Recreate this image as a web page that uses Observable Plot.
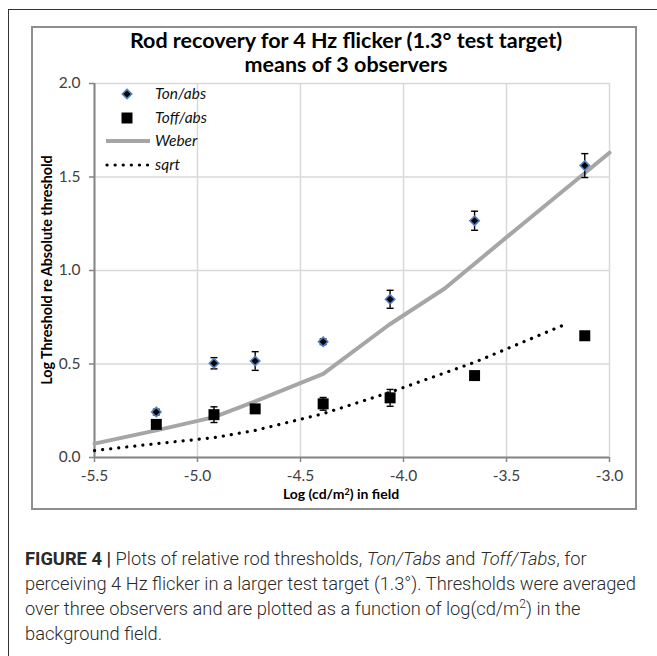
<!DOCTYPE html>
<html><head><meta charset="utf-8">
<script src="https://cdn.jsdelivr.net/npm/d3@7"></script>
<script src="https://cdn.jsdelivr.net/npm/@observablehq/plot@0.6"></script>
<style>
html,body{margin:0;padding:0;background:#fff;}
#wrap{position:relative;width:657px;height:656px;overflow:hidden;font-family:Lato,sans-serif;color:#000;}
#outer{position:absolute;left:8px;top:9px;width:700px;height:700px;border:1px solid #333;box-sizing:border-box;}
#box{position:absolute;left:31px;top:26px;width:602px;height:480px;border:2px solid #8f8f8f;}
#chart{position:absolute;left:32px;top:27px;}
#title{position:absolute;left:0;top:28px;width:692px;text-align:center;font-weight:700;font-size:21.5px;line-height:24px;}
#ytitle{position:absolute;left:-103px;top:260px;width:300px;height:20px;line-height:20px;text-align:center;font-weight:700;font-size:14.3px;transform:rotate(-90deg);}
#xtitle{position:absolute;left:191px;top:484px;width:300px;line-height:20px;text-align:center;font-weight:700;font-size:14px;}
#xtitle sup{font-size:9px;vertical-align:top;position:relative;top:-2px;}
#legend{position:absolute;left:0;top:0;}
#caption{position:absolute;left:25px;top:546px;font-family:Roboto,sans-serif;font-weight:300;font-size:18.3px;line-height:25px;color:#2a2a2a;white-space:nowrap;}
#caption b{font-weight:700;}
#caption sup{font-size:12px;vertical-align:top;position:relative;top:-4px;}
</style>
</head><body>
<div id="wrap">
  <div id="outer"></div>
  <div id="box"></div>
  <div id="chart"></div>
  <div id="title">Rod recovery for 4 Hz flicker (1.3° test target)<br>means of 3 observers</div>
  <div id="ytitle">Log Threshold re Absolute threshold</div>
  <div id="xtitle">Log (cd/m<sup>2</sup>) in field</div>
  <svg id="legend" width="240" height="190"></svg>
  <div id="caption"><b>FIGURE 4 |</b> Plots of relative rod thresholds, <i>Ton/Tabs</i> and <i>Toff/Tabs</i>, for<br>perceiving 4 Hz flicker in a larger test target (1.3°). Thresholds were averaged<br>over three observers and are plotted as a function of log(cd/m<sup>2</sup>) in the<br>background field.</div>
</div>
<script>
// ---- data ----
const xTicks = [-5.5, -5.0, -4.5, -4.0, -3.5, -3.0];
const yTicks = [0, 0.5, 1.0, 1.5, 2.0];

const fieldX = [-5.2, -4.92, -4.72, -4.39, -4.065, -3.655, -3.12];
const tonY   = [0.243, 0.504, 0.516, 0.619, 0.846, 1.266, 1.561];
const tonErr = [0.015, 0.03, 0.05, 0.015, 0.048, 0.051, 0.064];
const toffY   = [0.177, 0.229, 0.26, 0.287, 0.319, 0.438, 0.651];
const toffErr = [0.015, 0.042, 0.02, 0.034, 0.045, 0.015, 0.015];

const weberX = [-5.5, -5.2, -4.92, -4.72, -4.39, -4.07, -3.8, -3.43, -3.0];
const weberY = [0.074, 0.145, 0.216, 0.30, 0.447, 0.71, 0.904, 1.241, 1.63];

const sqrtX = [-5.5, -5.2, -4.92, -4.72, -4.39, -4.065, -3.655, -3.206];
const sqrtY = [0.037, 0.074, 0.106, 0.145, 0.234, 0.349, 0.509, 0.716];

const legendLabels = ["Ton/abs", "Toff/abs", "Weber", "sqrt"];

// ---- build ----
const ton = fieldX.map((x, i) => ({x, y: tonY[i], e: tonErr[i]}));
const toff = fieldX.map((x, i) => ({x, y: toffY[i], e: toffErr[i]}));
const weber = weberX.map((x, i) => ({x, y: weberY[i]}));
const sqrt = sqrtX.map((x, i) => ({x, y: sqrtY[i]}));

const cap = {draw(ctx) { ctx.moveTo(-3.5, 0); ctx.lineTo(3.5, 0); }};
const errMarks = (data) => [
  Plot.ruleX(data, {x: "x", y1: d => d.y - d.e, y2: d => d.y + d.e, stroke: "#000", strokeWidth: 1.4}),
  Plot.dot(data, {x: "x", y: d => d.y + d.e, symbol: cap, stroke: "#000", strokeWidth: 1.4}),
  Plot.dot(data, {x: "x", y: d => d.y - d.e, symbol: cap, stroke: "#000", strokeWidth: 1.4})
];

const diamondR = 4.2, squareR = 6.2;
const chart = Plot.plot({
  width: 604, height: 482,
  marginLeft: 62, marginRight: 27, marginTop: 56, marginBottom: 52,
  x: {domain: [-5.5, -3.0], label: null},
  y: {domain: [0, 2], label: null},
  style: {fontFamily: "Lato, sans-serif", fontSize: "15.5px", background: "transparent", overflow: "visible"},
  marks: [
    Plot.gridX(xTicks, {stroke: "#d9d9d9", strokeOpacity: 1, strokeWidth: 1.5}),
    Plot.gridY(yTicks, {stroke: "#d9d9d9", strokeOpacity: 1, strokeWidth: 1.5}),
    Plot.ruleY([0], {stroke: "#868686", strokeWidth: 2}),
    Plot.ruleX([-5.5], {stroke: "#868686", strokeWidth: 2}),
    Plot.axisX(xTicks, {tickSize: 5, tickPadding: 7, stroke: "#868686", strokeWidth: 1.5, fill: "#404040", tickFormat: d => d.toFixed(1), label: null}),
    Plot.axisY(yTicks, {tickSize: 5, tickPadding: 9, stroke: "#868686", strokeWidth: 1.5, fill: "#404040", tickFormat: d => d.toFixed(1), label: null}),
    Plot.line(weber, {x: "x", y: "y", stroke: "#a6a6a6", strokeWidth: 4}),
    Plot.line(sqrt, {x: "x", y: "y", stroke: "#000", strokeWidth: 3.2, strokeDasharray: "0.1 8", strokeLinecap: "round"}),
    ...errMarks(ton),
    ...errMarks(toff),
    Plot.dot(ton, {x: "x", y: "y", symbol: "diamond2", r: diamondR, fill: "#000", stroke: "#4f81bd", strokeWidth: 1.6}),
    Plot.dot(toff, {x: "x", y: "y", symbol: "square", r: squareR, fill: "#000", stroke: "none"})
  ]
});
document.getElementById("chart").appendChild(chart);

// ---- legend ----
const lg = d3.select("#legend");
const rows = [94, 118, 141, 165];
lg.append("path").attr("transform", `translate(127,${rows[0]})`)
  .attr("d", d3.symbol(d3.symbolDiamond2, Math.PI * diamondR * diamondR)())
  .attr("fill", "#000").attr("stroke", "#4f81bd").attr("stroke-width", 1.6);
lg.append("path").attr("transform", `translate(127,${rows[1]})`)
  .attr("d", d3.symbol(d3.symbolSquare, Math.PI * squareR * squareR)())
  .attr("fill", "#000");
lg.append("line").attr("x1", 106).attr("x2", 150).attr("y1", rows[2]).attr("y2", rows[2])
  .attr("stroke", "#a6a6a6").attr("stroke-width", 4);
lg.append("line").attr("x1", 107).attr("x2", 149).attr("y1", rows[3]).attr("y2", rows[3])
  .attr("stroke", "#000").attr("stroke-width", 3.2).attr("stroke-dasharray", "0.1 8").attr("stroke-linecap", "round");
lg.selectAll("text.l").data(legendLabels).join("text")
  .attr("x", 155).attr("y", (d, i) => rows[i]).attr("dy", "0.35em")
  .attr("font-family", "Lato, sans-serif").attr("font-style", "italic").attr("font-size", 15.5)
  .attr("fill", "#111").text(d => d);
</script>
</body></html>
